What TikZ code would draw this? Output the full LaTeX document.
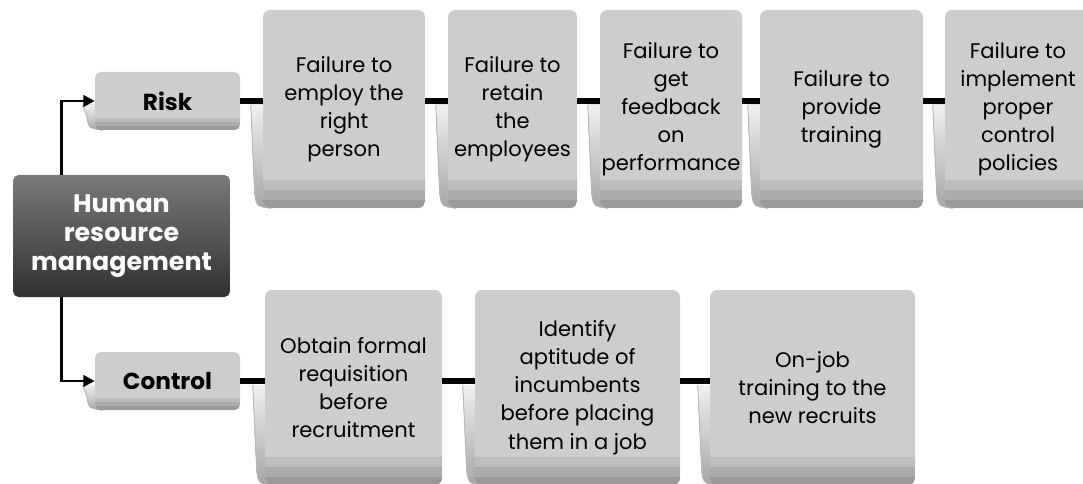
\documentclass[tikz,border=0pt]{standalone}
\usepackage{fontspec}
\setmainfont{Poppins}
\usetikzlibrary{calc,arrows.meta}
\definecolor{cardgray}{HTML}{CDCDCD}
\definecolor{bandA}{HTML}{BDBDBD}
\definecolor{bandB}{HTML}{ABABAB}
\definecolor{bandC}{HTML}{999999}
\definecolor{hrmtop}{HTML}{7A7A7A}
\definecolor{hrmbot}{HTML}{303030}
\pgfdeclarelayer{background}
\pgfsetlayers{background,main}
% curled page edge on the left of a box, starting under the bar row
\newcommand{\pagecurl}[2]{%
  \fill[curlshade] ($(#1.west |- #2)+(0.2,-0.1)$) -- ++(-0.5,0)
    -- ($(#1.south west)+(-0.2,0.35)$)
    .. controls ($(#1.south west)+(-0.15,0.05)$) .. ($(#1.south west)+(0.2,0)$)
    -- cycle;
  \draw[gray!55,line width=0.6pt] ($(#1.west |- #2)+(-0.3,-0.1)$)
    -- ($(#1.south west)+(-0.2,0.35)$)
    .. controls ($(#1.south west)+(-0.15,0.05)$) .. ($(#1.south west)+(0.2,0)$);
}

\begin{document}
\begin{tikzpicture}[font=\fontsize{15}{20}\selectfont,
  card/.style={fill=cardgray,rounded corners=5pt,align=center,inner sep=0pt,
    path picture={
      \fill[bandA,sharp corners] ($(path picture bounding box.south west)+(0,0.7)$) rectangle ($(path picture bounding box.south east)+(0,0.45)$);
      \fill[bandB,sharp corners] ($(path picture bounding box.south west)+(0,0.45)$) rectangle ($(path picture bounding box.south east)+(0,0.2)$);
      \fill[bandC,sharp corners] (path picture bounding box.south west) rectangle ($(path picture bounding box.south east)+(0,0.2)$);}},
  tag/.style={fill=cardgray,rounded corners=4pt,align=center,inner sep=0pt,
    minimum width=3.625cm,minimum height=1.45cm,font=\fontsize{16.5}{20}\selectfont\bfseries,
    path picture={
      \fill[bandA,sharp corners] ($(path picture bounding box.south west)+(0,0.3)$) rectangle ($(path picture bounding box.south east)+(0,0.2)$);
      \fill[bandB,sharp corners] ($(path picture bounding box.south west)+(0,0.2)$) rectangle ($(path picture bounding box.south east)+(0,0.1)$);
      \fill[bandC,sharp corners] (path picture bounding box.south west) rectangle ($(path picture bounding box.south east)+(0,0.1)$);}},
  curlshade/.style={top color=gray!12,bottom color=gray!70},
  bar/.style={line width=4.5pt},
  feed/.style={line width=2pt,-{Triangle[length=8pt,width=8pt]}}]
\path[use as bounding box] (0,0) rectangle (27.075,-12.1);
\clip (0,0) rectangle (27.075,-12.1);

% root
\node[rounded corners=4pt,top color=hrmtop,bottom color=hrmbot,text=white,align=center,
  minimum width=5.425cm,minimum height=3.05cm,font=\fontsize{18}{20.6}\selectfont\bfseries]
  (hrm) at (3.0375,-5.9) {Human\\resource\\management};

% branches
\node[tag] (risk) at (4.1875,-2.525) {Risk};
\node[tag] (ctrl) at (4.1875,-9.525) {Control};

% risk row
\node[card,minimum width=4.05cm,minimum height=4.95cm] (r1) at (8.6,-2.725)
  {Failure to\\employ the\\right\\person};
\node[card,minimum width=3.225cm,minimum height=4.95cm] (r2) at (12.8125,-2.725)
  {Failure to\\retain\\the\\employees};
\node[card,minimum width=3.55cm,minimum height=4.95cm] (r3) at (16.775,-2.725)
  {Failure to\\get\\feedback\\on\\performance};
\node[card,minimum width=4.075cm,minimum height=4.95cm] (r4) at (21.0375,-2.725)
  {Failure to\\provide\\training};
\node[card,minimum width=3.65cm,minimum height=4.95cm] (r5) at (25.45,-2.725)
  {Failure to\\implement\\proper\\control\\policies};

% control row
\node[card,minimum width=4.425cm,minimum height=4.875cm] (b1) at (8.8375,-9.6875)
  {Obtain formal\\requisition\\before\\recruitment};
\node[card,minimum width=5.125cm,minimum height=4.875cm] (b2) at (14.4375,-9.6875)
  {Identify\\aptitude of\\incumbents\\before placing\\them in a job};
\node[card,minimum width=5.125cm,minimum height=4.875cm] (b3) at (20.3125,-9.6875)
  {On-job\\training to the\\new recruits};

% curls
\begin{pgfonlayer}{background}
\pagecurl{risk}{risk}
\pagecurl{ctrl}{ctrl}
\foreach \n in {r1,r2,r3,r4,r5}{\pagecurl{\n}{risk}}
\foreach \n in {b1,b2,b3}{\pagecurl{\n}{ctrl}}
\end{pgfonlayer}

% arrows from root
\coordinate (up) at ($(hrm.north west)+(1.225,0)$);
\coordinate (dn) at ($(hrm.south west)+(1.225,0)$);
\draw[feed] (up) |- (risk.west);
\draw[feed] (dn) |- (ctrl.west);

% bars
\draw[bar] (risk.east) -- (risk.east -| r1.west);
\draw[bar] (r1.east |- risk) -- (r2.west |- risk);
\draw[bar] (r2.east |- risk) -- (r3.west |- risk);
\draw[bar] (r3.east |- risk) -- (r4.west |- risk);
\draw[bar] (r4.east |- risk) -- (r5.west |- risk);
\draw[bar] (ctrl.east) -- (ctrl.east -| b1.west);
\draw[bar] (b1.east |- ctrl) -- (b2.west |- ctrl);
\draw[bar] (b2.east |- ctrl) -- (b3.west |- ctrl);
\end{tikzpicture}
\end{document}
